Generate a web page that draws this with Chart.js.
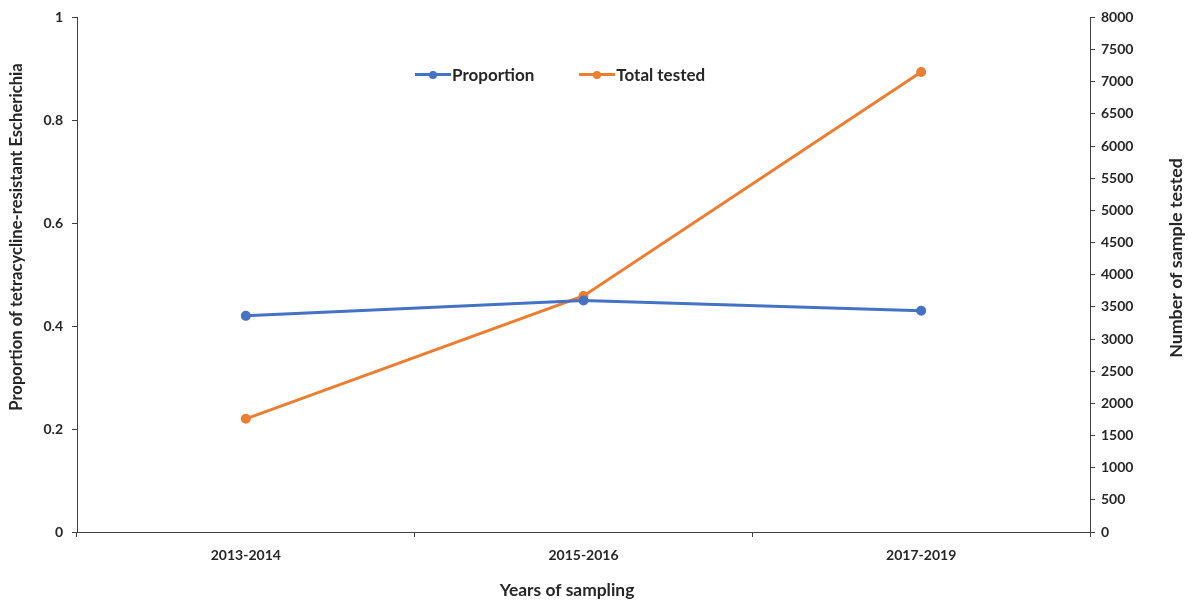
<!DOCTYPE html>
<html>
<head>
<meta charset="utf-8">
<script src="https://cdn.jsdelivr.net/npm/chart.js@4.4.1/dist/chart.umd.min.js"></script>
<style>
  html, body { margin: 0; padding: 0; background: #fff; }
  .wrap { position: relative; width: 1188px; height: 605px; }
  #chart { display: block; }
  .legend {
    position: absolute; top: 64px; left: 415px;
    display: flex; gap: 45px;
    font: bold 17px Lato, "Open Sans", sans-serif; color: #262626;
  }
  .legend-item { display: flex; align-items: center; }
  .swatch { position: relative; width: 36px; height: 3px; margin-right: 1px; }
  .swatch::after {
    content: ''; position: absolute; left: 14px; top: -2.5px;
    width: 8px; height: 8px; border-radius: 50%; background: inherit;
  }
</style>
</head>
<body>
<div class="wrap">
  <canvas id="chart" width="1188" height="605"></canvas>
  <div class="legend" id="legend"></div>
</div>
<script>
// ── DATA ───────────────────────────────────────────────────
const years       = ['2013-2014', '2015-2016', '2017-2019'];
const proportion  = [0.42, 0.45, 0.43];
const totalTested = [1760, 3670, 7150];

const BLUE   = '#4472C4';
const ORANGE = '#ED7D31';
const TEXT   = '#262626';
const AXIS   = '#404040';

const FONT = 'Lato, "Open Sans", sans-serif';
const tickFont = { family: FONT, size: 14, weight: 'bold' };

// ── AXIS TITLES ────────────────────────────────────────────
// Excel places them slightly off-centre, so they are drawn by hand.
// len = length of the text in the reference; font size is fitted to it.
const axisTitles = [
  { text: 'Proportion of tetracycline-resistant Escherichia', x: 17,   y: 237, len: 347, rotate: true },
  { text: 'Number of sample tested',                          x: 1176, y: 258, len: 200, rotate: true },
  { text: 'Years of sampling',                                x: 567,  y: 590, len: 135, rotate: false },
];

const titlePlugin = {
  id: 'axisTitles',
  afterDraw(chart) {
    const ctx = chart.ctx;
    axisTitles.forEach(t => {
      ctx.save();
      ctx.font = `bold 16px ${FONT}`;
      const size = Math.min(18, 16 * t.len / ctx.measureText(t.text).width);
      ctx.font = `bold ${size.toFixed(1)}px ${FONT}`;
      ctx.fillStyle = TEXT;
      ctx.textAlign = 'center';
      ctx.textBaseline = 'middle';
      ctx.translate(t.x, t.y);
      if (t.rotate) ctx.rotate(-Math.PI / 2);
      ctx.fillText(t.text, 0, 0);
      ctx.restore();
    });
  }
};

// ── CHART ──────────────────────────────────────────────────
const chart = new Chart(document.getElementById('chart'), {
  type: 'line',
  data: {
    labels: years,
    datasets: [
      {
        label: 'Proportion',
        data: proportion,
        yAxisID: 'y',
        borderColor: BLUE,
        backgroundColor: BLUE,
        borderWidth: 3,
        pointRadius: 3.5,
        pointHoverRadius: 3.5,
      },
      {
        label: 'Total tested',
        data: totalTested,
        yAxisID: 'y1',
        borderColor: ORANGE,
        backgroundColor: ORANGE,
        borderWidth: 3,
        pointRadius: 3.5,
        pointHoverRadius: 3.5,
      }
    ]
  },
  options: {
    responsive: false,
    animation: false,
    layout: { padding: { top: 15, left: 0, right: 0, bottom: 0 } },
    plugins: { legend: { display: false }, tooltip: { enabled: false } },
    scales: {
      x: {
        offset: true,
        grid: { offset: true, drawOnChartArea: false, tickLength: 5, color: AXIS },
        border: { color: AXIS, width: 1 },
        ticks: { color: TEXT, font: tickFont, padding: 10, maxRotation: 0 },
        afterFit: s => { s.height = 73; }
      },
      y: {
        position: 'left',
        min: 0, max: 1,
        grid: { drawOnChartArea: false, tickLength: 5, color: AXIS },
        border: { color: AXIS, width: 1 },
        ticks: { stepSize: 0.2, color: TEXT, font: tickFont, padding: 9, callback: v => String(+v.toFixed(1)) },
        afterFit: s => { s.width = 77; }
      },
      y1: {
        position: 'right',
        min: 0, max: 8000,
        grid: { drawOnChartArea: false, tickLength: 5, color: AXIS },
        border: { color: AXIS, width: 1 },
        ticks: { stepSize: 500, color: TEXT, font: tickFont, padding: 6, callback: v => String(v) },
        afterFit: s => { s.width = 98; }
      }
    }
  },
  plugins: [titlePlugin]
});

// ── LEGEND ─────────────────────────────────────────────────
const legend = document.getElementById('legend');
chart.data.datasets.forEach(ds => {
  const item = document.createElement('div');
  item.className = 'legend-item';
  item.innerHTML = `<span class="swatch" style="background:${ds.borderColor}"></span>${ds.label}`;
  legend.appendChild(item);
});
</script>
</body>
</html>
